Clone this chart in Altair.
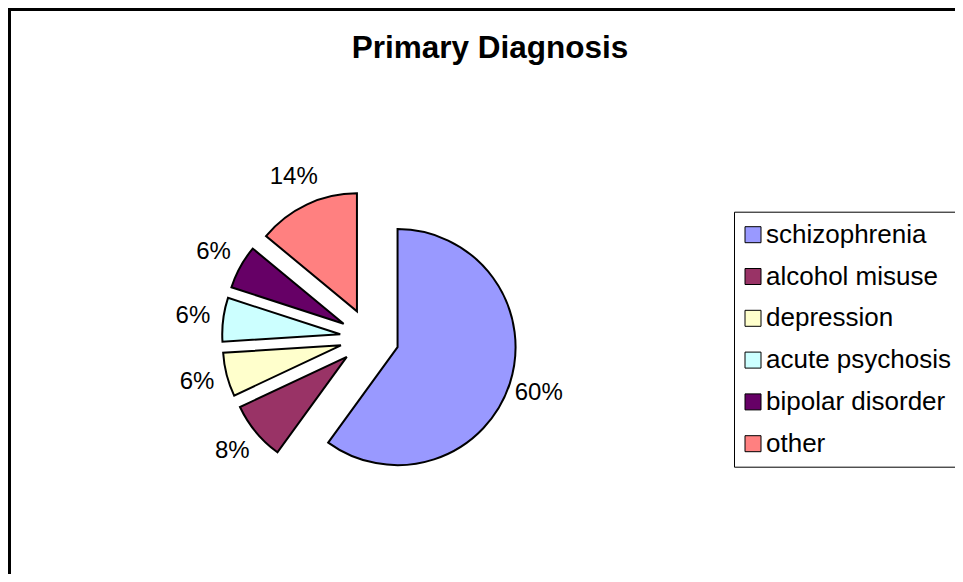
import math
import altair as alt
import pandas as pd

# ---- data ----
diagnoses = ["schizophrenia", "alcohol misuse", "depression",
             "acute psychosis", "bipolar disorder", "other"]
percent = [60, 8, 6, 6, 6, 14]
colors = ["#9999FF", "#993366", "#FFFFCC", "#CCFFFF", "#660066", "#FF8080"]
chart_title = "Primary Diagnosis"

# ---- layout (pixels) ----
W, H = 947, 566
CX, CY = 361.5, 330.0      # pie centre inside the view
R = 118.0                  # slice radius
EXPLODE = 29.5             # explosion distance of each slice
LABEL_R = 178.0            # distance of the percentage labels
FONT = "Liberation Sans"

df = pd.DataFrame({"diagnosis": diagnoses, "value": percent,
                   "order": list(range(len(diagnoses)))})

base = alt.Chart(df).transform_window(
    cum="sum(value)", frame=[None, 0], sort=[alt.SortField("order")]
).transform_joinaggregate(
    total="sum(value)"
).transform_calculate(
    f0="(datum.cum - datum.value) / datum.total",
    f1="datum.cum / datum.total",
    mid="(datum.cum - datum.value / 2) / datum.total * 2 * PI",
    ex=f"{EXPLODE / R} * sin(datum.mid)",
    ey=f"-{EXPLODE / R} * cos(datum.mid)",
    lx=f"{LABEL_R / R} * sin(datum.mid)",
    ly=f"-{LABEL_R / R} * cos(datum.mid)",
    label="format(datum.value / datum.total, '.0%')",
)

xscale = alt.Scale(domain=[-1, 1], range=[CX - R, CX + R])
yscale = alt.Scale(domain=[-1, 1], range=[CY - R, CY + R])

pie = base.mark_arc(outerRadius=R, stroke="black", strokeWidth=2).encode(
    x=alt.X("ex:Q", scale=xscale, axis=None),
    y=alt.Y("ey:Q", scale=yscale, axis=None),
    theta=alt.Theta("f0:Q", scale=alt.Scale(domain=[0, 1], range=[0, 2 * math.pi])),
    theta2="f1:Q",
    color=alt.Color(
        "diagnosis:N",
        scale=alt.Scale(domain=diagnoses, range=colors),
        legend=alt.Legend(
            title=None, orient="none", legendX=726, legendY=203.7,
            padding=10, strokeColor="black", fillColor="white",
            symbolType="square", symbolSize=256, symbolOffset=-4,
            symbolStrokeColor="black", symbolStrokeWidth=1,
            labelFontSize=26, labelFont=FONT, labelColor="black",
            rowPadding=15.8, labelOffset=0, labelLimit=400,
        ),
    ),
)

labels = base.mark_text(fontSize=24, font=FONT, color="black",
                        align="center", baseline="middle").encode(
    x=alt.X("lx:Q", scale=xscale, axis=None),
    y=alt.Y("ly:Q", scale=yscale, axis=None),
    text="label:N",
)

title_df = pd.DataFrame({"t": [chart_title]})
title = alt.Chart(title_df).mark_text(
    fontSize=31.5, fontWeight="bold", font=FONT, color="black",
    align="center", baseline="alphabetic",
).encode(x=alt.value(482), y=alt.value(50.3), text="t:N")

frame_df = pd.DataFrame({"k": [0]})
left_border = alt.Chart(frame_df).mark_rule(color="black", strokeWidth=3).encode(
    x=alt.value(1.5), y=alt.value(0), y2=alt.value(H))
top_border = alt.Chart(frame_df).mark_rule(color="black", strokeWidth=3).encode(
    x=alt.value(0), x2=alt.value(W), y=alt.value(1.5))

chart = alt.layer(left_border, top_border, pie, labels, title).properties(
    width=W, height=H,
    autosize=alt.AutoSizeParams(type="none"),
    padding=0,
    background="white",
).configure_view(stroke=None)

chart.save("out.html", embed_options={"renderer": "svg", "actions": False})
